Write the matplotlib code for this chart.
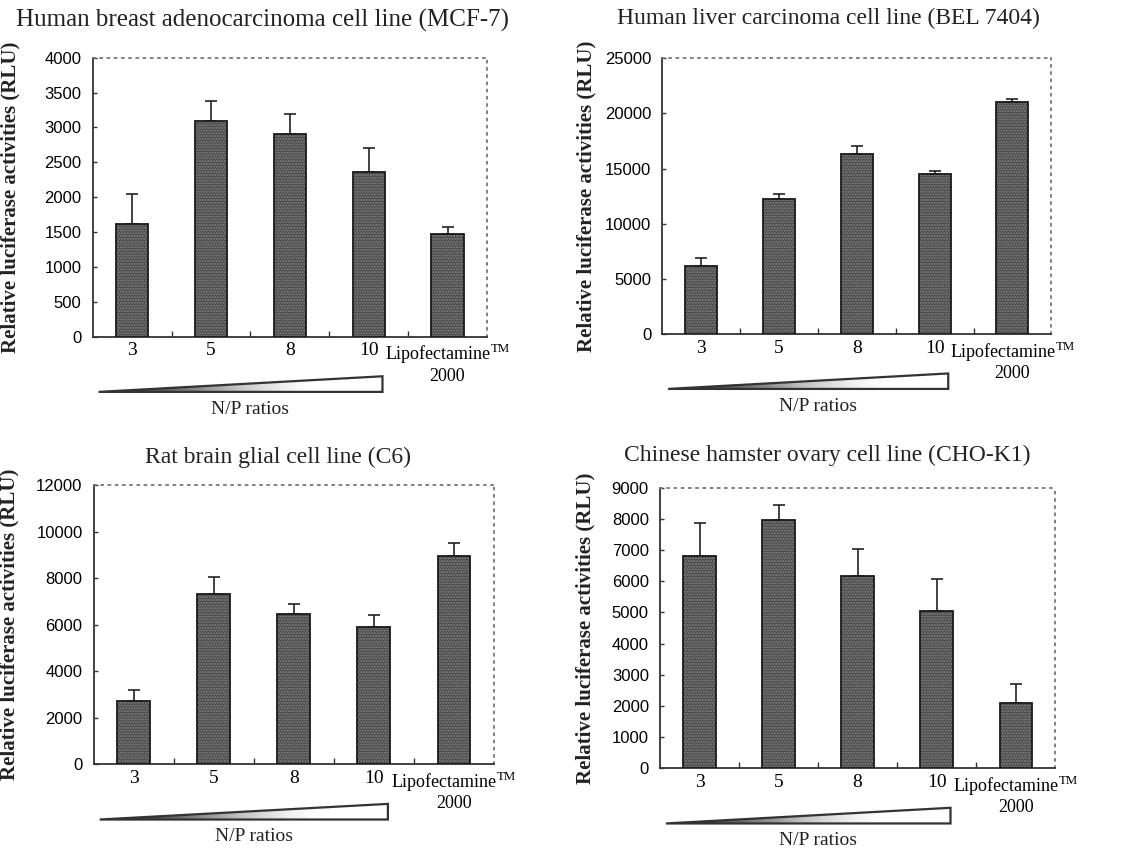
import numpy as np
import matplotlib
matplotlib.use("Agg")
import matplotlib.pyplot as plt
from matplotlib.patches import Polygon

# ---- data ----
categories = ["3", "5", "8", "10", "Lipofectamine$^{\\mathregular{TM}}$\n2000"]

titles = [
    "Human breast adenocarcinoma cell line (MCF-7)",
    "Human liver carcinoma cell line (BEL 7404)",
    "Rat brain glial cell line (C6)",
    "Chinese hamster ovary cell line (CHO-K1)",
]

mcf7_mean = [1610, 3097, 2901, 2361, 1467]
mcf7_err = [430, 286, 287, 349, 110]

bel_mean = [6220, 12228, 16365, 14523, 21014]
bel_err = [724, 483, 724, 302, 272]

c6_mean = [2724, 7326, 6466, 5921, 8961]
c6_err = [487, 717, 430, 502, 573]

cho_mean = [6804, 7971, 6171, 5036, 2100]
cho_err = [1071, 472, 868, 1039, 600]

y_max = [4000, 25000, 12000, 9000]
y_step = [500, 5000, 2000, 1000]

means = [mcf7_mean, bel_mean, c6_mean, cho_mean]
errs = [mcf7_err, bel_err, c6_err, cho_err]

ylabel = "Relative luciferase activities (RLU)"
xlabel = "N/P ratios"

# ---- layout ----
serif = ["Liberation Serif", "DejaVu Serif"]
tickfont = ["Liberation Sans Narrow", "Liberation Sans", "DejaVu Sans"]

fig = plt.figure(figsize=(11.48, 8.51), dpi=100)
positions = [
    [0.0807, 0.6044, 0.3435, 0.3278],
    [0.5769, 0.6072, 0.3389, 0.3243],
    [0.0816, 0.1019, 0.3487, 0.3278],
    [0.5749, 0.0975, 0.3443, 0.3290],
]
title_pos = [(0.43, 1.135), (0.426, 1.146), (0.46, 1.10), (0.423, 1.118)]
title_size = [18, 17, 17, 17]
ylab_x = [-0.184, -0.168, -0.185, -0.163]

grad = np.linspace(0, 1, 256).reshape(1, -1)

for i, ax_pos in enumerate(positions):
    ax = fig.add_axes(ax_pos)
    x = np.arange(len(categories))
    m = means[i]
    e = errs[i]
    # error bars (upper only)
    ax.errorbar(x, m, yerr=[np.zeros(len(m)), e], fmt="none", ecolor="#222222",
                elinewidth=1.2, capsize=4, capthick=1.2, zorder=2)
    # textured fill
    ax.bar(x, m, width=0.41, color="#4a4a4a", edgecolor="#858585", hatch="......",
           linewidth=0, zorder=3)
    # outline
    ax.bar(x, m, width=0.41, fill=False, edgecolor="#1a1a1a", linewidth=1.3, zorder=4)

    ax.set_xlim(-0.5, len(categories) - 0.5)
    ax.set_ylim(0, y_max[i])
    ax.set_yticks(np.arange(0, y_max[i] + 1, y_step[i]))
    ax.set_xticks(x)
    ax.set_xticklabels(categories, family=serif, fontsize=14, linespacing=1.1)
    ax.get_xticklabels()[-1].set_fontsize(13)
    ax.set_xticks(np.arange(0.5, len(categories) - 0.5, 1), minor=True)
    ax.tick_params(axis="x", which="major", length=0, pad=4)
    ax.tick_params(axis="x", which="minor", direction="in", length=4, width=1.0, color="#333333")
    ax.tick_params(axis="y", direction="in", length=3, width=1.0, color="#333333", pad=8)
    for lab in ax.get_yticklabels():
        lab.set_family(tickfont)
        lab.set_fontsize(12)

    for s in ["left", "bottom"]:
        ax.spines[s].set_color("#333333")
        ax.spines[s].set_linewidth(1.3)
    for s in ["top", "right"]:
        ax.spines[s].set_color("#777777")
        ax.spines[s].set_linewidth(1.3)
        ax.spines[s].set_linestyle((0, (1, 3)))

    ax.set_ylabel(ylabel, family=serif, fontsize=15, fontweight="bold", color="#222222")
    ax.yaxis.set_label_coords(ylab_x[i], 0.5)

    tx, ty = title_pos[i]
    ax.text(tx, ty, titles[i], transform=ax.transAxes, ha="center", va="center",
            family=serif, fontsize=title_size[i], color="#222222")

    # N/P ratios wedge
    x0, x1 = 0.015, 0.735
    yb, yt = -0.198, -0.142
    bbox = ax.get_position()
    wax = fig.add_axes([bbox.x0 + x0 * bbox.width, bbox.y0 + yb * bbox.height,
                        (x1 - x0) * bbox.width, (yt - yb) * bbox.height])
    wax.set_xlim(0, 1)
    wax.set_ylim(0, 1)
    wax.axis("off")
    tri = Polygon([[0, 0], [1, 1], [1, 0]], closed=True, transform=wax.transData,
                  facecolor="none", edgecolor="#333333", linewidth=1.6, clip_on=False)
    im = wax.imshow(grad, cmap="Greys_r", extent=[0, 1, 0, 1], aspect="auto",
                    vmin=0.0, vmax=0.75)
    im.set_clip_path(tri)
    wax.add_patch(tri)

    ax.text(0.40, -0.26, xlabel, transform=ax.transAxes, ha="center", va="center",
            family=serif, fontsize=14, color="#222222")

fig.savefig("out.png", dpi=100)
